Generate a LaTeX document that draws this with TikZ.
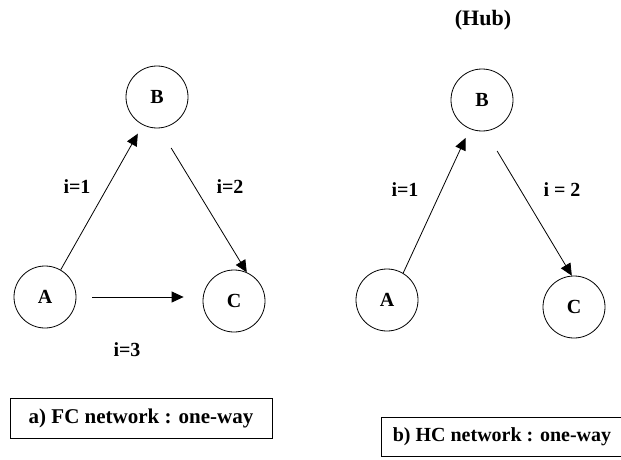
\documentclass[tikz,border=0pt]{standalone}
\usepackage{fontspec}
\setmainfont{Liberation Serif}
\usetikzlibrary{arrows.meta,calc}
\begin{document}
\begin{tikzpicture}[x=1pt,y=-1pt,
  vtx/.style={draw,circle,minimum size=62pt,inner sep=0pt,line width=0.8pt,font=\bfseries\fontsize{20}{20}\selectfont},
  lbl/.style={font=\bfseries\fontsize{20}{20}\selectfont,inner sep=0pt},
  capbox/.style={draw,line width=0.8pt,font=\bfseries\fontsize{21}{21}\selectfont,inner sep=0pt},
  arr/.style={line width=0.8pt,-{Triangle[length=12pt,width=11pt]}}]
\useasboundingbox (0,0) rectangle (621,460);
% left panel
\node[vtx] (B1) at (157,97) {B};
\node[vtx] (A1) at (45,297) {A};
\node[vtx] (C1) at (234,301) {C};
\draw[arr,shorten >=10pt] (A1.60) -- (B1.243);
\draw[arr,shorten <=23pt] (B1.-86) -- (C1.66);
\draw[arr,shorten <=16pt,shorten >=19pt] (A1.east) -- (A1.east -| C1.west);
\node[lbl] (l11) at (77,187) {i=1};
\node[lbl] (l12) at (230,187) {i=2};
\node[lbl] (l13) at (127,350) {i=3};
% right panel
\node[font=\bfseries\fontsize{22}{22}\selectfont,inner sep=0pt] (hub) at (483,20) {(Hub)};
\node[vtx] (B2) at (482,100) {B};
\node[vtx] (A2) at (387,300) {A};
\node[vtx] (C2) at (574,307) {C};
\draw[arr,shorten >=10pt] (A2.59) -- (B2.247);
\draw[arr,shorten <=23pt] (B2.-84) -- (C2.94);
\node[lbl] (l21) at (405,190) {i=1};
\node[lbl] (l22) at (562,190) {i = 2};
% captions
\node[capbox,minimum width=262pt,minimum height=40pt] (capa) at (141,418) {a) FC network : one-way};
\node[capbox,minimum width=242pt,minimum height=39pt,font=\bfseries\fontsize{20}{20}\selectfont] (capb) at (502,436.5) {b) HC network : one-way};
\end{tikzpicture}
\end{document}
